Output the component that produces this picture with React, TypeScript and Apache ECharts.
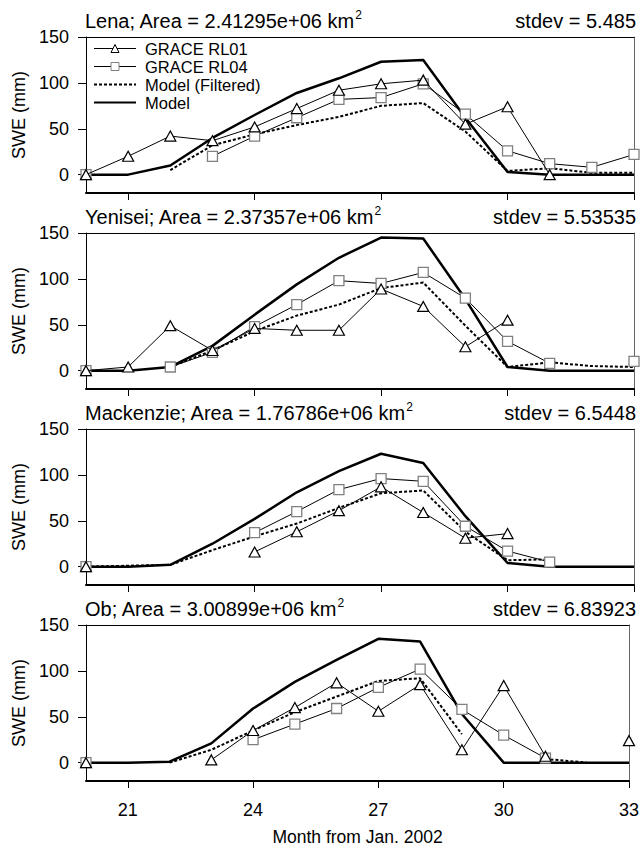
import React, { useEffect, useRef } from "react";
import * as echarts from "echarts";

const months = [20, 21, 22, 23, 24, 25, 26, 27, 28, 29, 30, 31, 32, 33];
const xTicks = [21, 24, 27, 30, 33];
const yTicks = [0, 50, 100, 150];

const basinNames = ["Lena", "Yenisei", "Mackenzie", "Ob"];
const basinAreas = ["2.41295e+06", "2.37357e+06", "1.76786e+06", "3.00899e+06"];
const basinStdev = ["5.485", "5.53535", "6.5448", "6.83923"];

const lenaRL01 = [0, 20, 42, 37, 52, 72, 92, 99, 103, 55, 74, 0, null, null];
const lenaRL04 = [0, null, null, 20, 42, 62, 82, 84, 99, 66, 26, 12, 8, 22];
const lenaFilt = [null, null, 5, 32, 44, 54, 63, 75, 78, 47, 4, 7, 2, 2];
const lenaModel = [0, 0, 10, 40, 65, 89, 105, 123, 125, 62, 3, 0, 0, 0];

const yeniseiRL01 = [0, 4, 49, 22, 46, 44, 44, 89, 70, 26, 55, null, null, null];
const yeniseiRL04 = [0, null, 4, 20, 48, 72, 98, 95, 107, 79, 32, 8, null, 10];
const yeniseiFilt = [null, null, 4, 22, 43, 60, 72, 90, 96, 49, 4, 9, 5, 4];
const yeniseiModel = [0, 0, 4, 27, 61, 94, 123, 145, 144, 78, 4, 0, 0, 0];

const mackenzieRL01 = [0, null, null, null, 16, 38, 61, 87, 59, 31, 36, null, null, null];
const mackenzieRL04 = [0, null, null, null, 37, 60, 84, 96, 93, 44, 17, 5, null, null];
const mackenzieFilt = [0, 1, 2, 18, 33, 47, 64, 80, 83, 38, 7, 8, null, null];
const mackenzieModel = [0, 0, 2, 25, 52, 81, 104, 123, 113, 55, 4, 0, 0, 0];

const obRL01 = [0, null, null, 3, 35, 60, 87, 56, 85, 14, 84, 7, null, 24];
const obRL04 = [0, null, null, null, 25, 42, 59, 82, 102, 58, 30, 5, null, null];
const obFilt = [null, null, 0, 14, 35, 55, 72, 89, 92, 31, null, 4, 0, null];
const obModel = [0, 0, 1, 21, 59, 88, 112, 135, 132, 53, 0, 0, 0, 0];

const seriesNames = ["GRACE RL01", "GRACE RL04", "Model (Filtered)", "Model"];

const basinData = [
  [lenaRL01, lenaRL04, lenaFilt, lenaModel],
  [yeniseiRL01, yeniseiRL04, yeniseiFilt, yeniseiModel],
  [mackenzieRL01, mackenzieRL04, mackenzieFilt, mackenzieModel],
  [obRL01, obRL04, obFilt, obModel],
];

const FONT = "Liberation Sans";

function pairs(vals: (number | null)[]) {
  return months.map((m, i) => [m, vals[i] === null ? "-" : vals[i]]);
}

export default function App() {
  const ref = useRef<HTMLDivElement>(null);
  useEffect(() => {
    if (!ref.current) return;
    const chart = echarts.init(ref.current, null, { renderer: "svg" });
    const PANEL_TOP = 37;
    const PITCH = 196;
    const PANEL_H = 156;

    const grids: any[] = [];
    const xAxes: any[] = [];
    const yAxes: any[] = [];
    const titles: any[] = [];
    const series: any[] = [];

    basinNames.forEach((name, i) => {
      const top = PANEL_TOP + PITCH * i;
      grids.push({ left: 86, right: 8, top, height: PANEL_H, show: false });
      const last = i === basinNames.length - 1;
      xAxes.push({
        gridIndex: i,
        type: "value",
        position: "bottom",
        min: 20,
        max: 33,
        axisLine: { show: true, onZero: false, lineStyle: { color: "#000", width: 2 } },
        axisTick: { show: true, customValues: xTicks, length: 7, lineStyle: { color: "#000", width: 1 } },
        axisLabel: { show: last, customValues: xTicks, fontSize: 18, color: "#000", margin: 20, fontFamily: FONT },
        splitLine: { show: false },
        name: last ? "Month from Jan. 2002" : "",
        nameLocation: "middle",
        nameGap: 47,
        nameTextStyle: { fontSize: 17.5, color: "#000", fontFamily: FONT },
      });
      xAxes.push({
        gridIndex: i,
        type: "value",
        position: "top",
        min: 20,
        max: 33,
        axisLine: { show: true, onZero: false, lineStyle: { color: "#000", width: 1 } },
        axisTick: { show: false },
        axisLabel: { show: false },
        splitLine: { show: false },
      });
      yAxes.push({
        gridIndex: i,
        type: "value",
        position: "left",
        min: -20,
        max: 150,
        axisLine: { show: true, onZero: false, lineStyle: { color: "#000", width: 1 } },
        axisTick: { show: true, customValues: yTicks, length: 8, lineStyle: { color: "#000", width: 1 } },
        axisLabel: { show: true, customValues: yTicks, fontSize: 18, color: "#000", margin: 17, fontFamily: FONT },
        splitLine: { show: false },
        name: "SWE (mm)",
        nameLocation: "middle",
        nameGap: 57,
        nameTextStyle: { fontSize: 18, color: "#000", fontFamily: FONT },
      });
      yAxes.push({
        gridIndex: i,
        type: "value",
        position: "right",
        min: -20,
        max: 150,
        axisLine: { show: true, onZero: false, lineStyle: { color: "#666", width: 1 } },
        axisTick: { show: false },
        axisLabel: { show: false },
        splitLine: { show: false },
      });

      titles.push({
        text: `{a|${name}; Area = ${basinAreas[i]} km}{s|2}`,
        left: 85,
        top: top - 28,
        padding: 0,
        textStyle: {
          rich: {
            a: { fontSize: 20, lineHeight: 24, fontWeight: "normal", color: "#000", fontFamily: FONT },
            s: { fontSize: 12, lineHeight: 13, fontWeight: "normal", color: "#000", fontFamily: FONT, verticalAlign: "top" },
          },
        },
      });
      titles.push({
        text: `stdev = ${basinStdev[i]}`,
        right: 6,
        top: top - 28,
        padding: 0,
        textStyle: { fontSize: 20, lineHeight: 24, fontWeight: "normal", color: "#000", fontFamily: FONT },
      });

      const [rl01, rl04, filt, model] = basinData[i];
      const xi = 2 * i;
      const yi = 2 * i;
      series.push({
        name: seriesNames[3],
        type: "line",
        xAxisIndex: xi,
        yAxisIndex: yi,
        data: pairs(model),
        symbol: "none",
        lineStyle: { color: "#000", width: 2.5 },
        itemStyle: { color: "#000" },
        z: 3,
      });
      series.push({
        name: seriesNames[2],
        type: "line",
        xAxisIndex: xi,
        yAxisIndex: yi,
        data: pairs(filt),
        symbol: "none",
        lineStyle: { color: "#000", width: 2, type: [3, 2] },
        itemStyle: { color: "#000" },
        z: 3,
      });
      series.push({
        name: seriesNames[1],
        type: "line",
        xAxisIndex: xi,
        yAxisIndex: yi,
        data: pairs(rl04),
        symbol: "rect",
        symbolSize: 10,
        showSymbol: true,
        lineStyle: { color: "#000", width: 1 },
        itemStyle: { color: "#fff", borderColor: "#808080", borderWidth: 1.3 },
        z: 4,
      });
      series.push({
        name: seriesNames[0],
        type: "line",
        xAxisIndex: xi,
        yAxisIndex: yi,
        data: pairs(rl01),
        symbol: "triangle",
        symbolSize: [11, 10],
        showSymbol: true,
        lineStyle: { color: "#000", width: 1 },
        itemStyle: { color: "#fff", borderColor: "#000", borderWidth: 1.2 },
        z: 5,
      });
    });

    chart.setOption({
      animation: false,
      backgroundColor: "#fff",
      textStyle: { fontFamily: FONT },
      title: titles,
      legend: {
        data: [
          { name: seriesNames[0], lineStyle: { width: 1, color: "#000" }, itemStyle: { borderWidth: 1 } },
          { name: seriesNames[1], lineStyle: { width: 1, color: "#000" }, itemStyle: { borderWidth: 1 } },
          { name: seriesNames[2], itemStyle: { opacity: 0 } },
          { name: seriesNames[3], itemStyle: { opacity: 0 } },
        ],
        orient: "vertical",
        left: 93,
        top: 40,
        padding: 0,
        itemWidth: 42,
        itemHeight: 10,
        itemGap: 1,
        selectedMode: false,
        textStyle: { fontSize: 16.5, lineHeight: 17, color: "#000", fontFamily: FONT, padding: [0, 0, 0, 4] },
      },
      grid: grids,
      xAxis: xAxes,
      yAxis: yAxes,
      series,
    });
    return () => chart.dispose();
  }, []);
  return (
    <div
      ref={ref}
      style={{ position: "fixed", left: 0, top: 0, width: 642, height: 848, background: "#fff" }}
    />
  );
}
